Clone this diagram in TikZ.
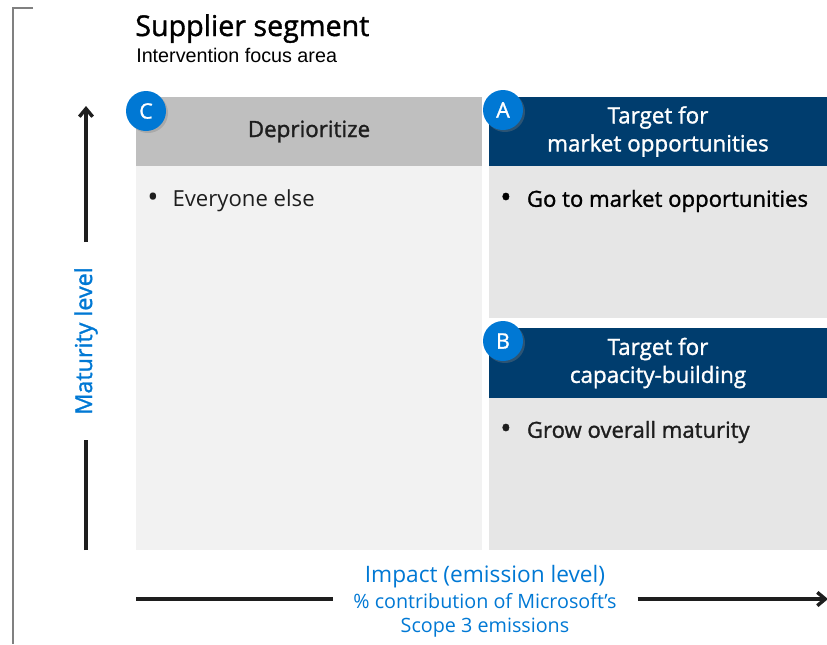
\documentclass[tikz,border=0pt]{standalone}
\usepackage{fontspec}
\setmainfont{Open Sans}
\newfontfamily\semib{Open Sans}[FakeBold=1.3]
\newfontfamily\arialf{Liberation Sans}
\usetikzlibrary{arrows.meta,shadows}
\definecolor{navy}{RGB}{0,61,110}
\definecolor{msblue}{RGB}{0,120,212}
\definecolor{hdrgrey}{RGB}{191,191,191}
\definecolor{bodyC}{RGB}{242,242,242}
\definecolor{bodyAB}{RGB}{230,230,230}
\definecolor{txtdark}{RGB}{30,30,30}
\definecolor{framegrey}{RGB}{128,128,128}
\newcommand{\mybul}{\raisebox{-0.5pt}{\scalebox{1.35}{•}}}
\tikzset{
  box/.style={inner sep=0pt, outer sep=0pt, anchor=north west},
  hdrtext/.style={align=center, font=\semib\fontsize{16.8}{21}\selectfont},
  badge/.style={circle, fill=msblue, text=white, minimum size=30pt, inner sep=0pt,
    font=\semib\fontsize{16}{16}\selectfont, drop shadow={opacity=0.35, shadow xshift=1.5pt, shadow yshift=-1.5pt}},
  bullettext/.style={anchor=west, inner sep=0pt, text=txtdark, font=\fontsize{16.6}{18}\selectfont},
  axis/.style={line width=2.6pt, draw=txtdark},
  axislabel/.style={text=msblue, inner sep=0pt, outer sep=0pt}
}
\begin{document}
\begin{tikzpicture}[x=0.75pt,y=-0.75pt]
\useasboundingbox (0,0) rectangle (827,644);
% frame
\coordinate (f1) at (33,8);
\coordinate (f2) at (13,8);
\coordinate (f3) at (13,644);
\draw[framegrey, line width=0.9pt] (f1) -- (f2) -- (f3);
% title
\node[anchor=base west, inner sep=0pt, font=\semib\fontsize{21.5}{24}\selectfont, text=black] (title) at (135,36) {Supplier segment};
\node[anchor=base west, inner sep=0pt, font=\arialf\fontsize{14.8}{16}\selectfont, text=black] (subtitle) at (136,62) {Intervention focus area};
% C quadrant
\node[box, fill=hdrgrey, minimum width=259.5pt, minimum height=51.75pt] (Ch) at (136,97) {};
\node[hdrtext, text=txtdark] (Cht) at (Ch.center) {Deprioritize};
\node[box, fill=bodyC, minimum width=259.5pt, minimum height=288pt] (Cb) at (136,166) {};
\node[bullettext] (Ct) at (147,201) {\makebox[19pt][l]{\mybul}Everyone else};
% A quadrant
\node[box, fill=navy, minimum width=253.5pt, minimum height=51.75pt] (Ah) at (489,97) {};
\node[hdrtext, text=white] (Aht) at (Ah.center) {Target for\\market opportunities};
\node[box, fill=bodyAB, minimum width=253.5pt, minimum height=114pt] (Ab) at (489,166) {};
\node[bullettext, text=black, font=\semib\fontsize{16.6}{18}\selectfont] (At) at (500,201) {\makebox[20pt][l]{\mybul}Go to market opportunities};
% B quadrant
\node[box, fill=navy, minimum width=253.5pt, minimum height=52.5pt] (Bh) at (489,328) {};
\node[hdrtext, text=white] (Bht) at (Bh.center) {Target for\\capacity-building};
\node[box, fill=bodyAB, minimum width=253.5pt, minimum height=114pt] (Bb) at (489,398) {};
\node[bullettext, font=\semib\fontsize{16.6}{18}\selectfont] (Bt) at (500,432) {\makebox[20pt][l]{\mybul}Grow overall maturity};
% badges
\node[badge] (bc) at (146,111) {C};
\node[badge] (ba) at (503,110) {A};
\node[badge] (bb) at (503,341) {B};
% vertical axis
\node[axislabel, rotate=90, minimum width=148.5pt, font=\semib\fontsize{17.5}{18}\selectfont] (ylab) at (86,341) {Maturity level};
\coordinate (ybot) at (86,550);
\coordinate (ytop) at (86,106);
\draw[axis] (ybot) -- (ylab.west);
\draw[axis, -{Straight Barb[length=6pt,width=10pt]}] (ylab.east) -- (ytop);
% horizontal axis
\node[axislabel, align=center, minimum width=228.75pt, font=\fontsize{14.8}{17.5}\selectfont] (xlab) at (485,601)
  {{\fontsize{17}{20}\selectfont Impact (emission level)}\\[2.5pt]
   \% contribution of Microsoft’s\\
   Scope 3 emissions};
\coordinate (xl) at (136,599);
\coordinate (xr) at (828,599);
\draw[axis] (xl) -- (xlab.west |- xl);
\draw[axis, -{Straight Barb[length=6pt,width=10pt]}] (xlab.east |- xr) -- (xr);
\end{tikzpicture}
\end{document}
